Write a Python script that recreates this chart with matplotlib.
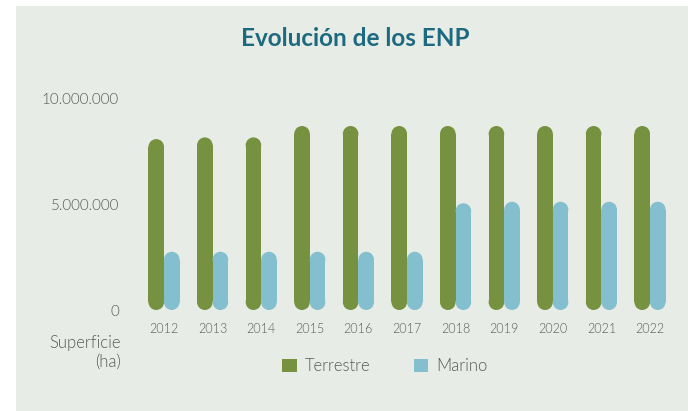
import matplotlib
matplotlib.use("Agg")
import matplotlib.pyplot as plt
from matplotlib.patches import Ellipse, Patch, Rectangle
import numpy as np

years = ["2012", "2013", "2014", "2015", "2016", "2017", "2018", "2019", "2020", "2021", "2022"]
terrestre = [8100000, 8180000, 8180000, 8720000, 8720000, 8720000, 8720000, 8720000, 8720000, 8720000, 8720000]
marino = [2760000, 2760000, 2760000, 2760000, 2760000, 2760000, 5060000, 5130000, 5130000, 5130000, 5130000]
yticks = [0, 5000000, 10000000]
ytick_labels = ["0", "5.000.000", "10.000.000"]

GREEN = "#76913f"
BLUE = "#84bfcf"
BG = "#e7ece6"
TXT = "#5a5a5a"
TITLE = "#1d6a80"
LW = 300

plt.rcParams['font.family'] = ['Lato', 'DejaVu Sans']

W, H = 688, 411
fig = plt.figure(figsize=(W / 100, H / 100), dpi=100)
fig.patch.set_facecolor("white")
fig.patches.append(Rectangle((16 / W, 0), 1 - 16 / W, 1 - 6 / H, transform=fig.transFigure,
                             facecolor=BG, edgecolor="none", zorder=-10))

left_px, right_px = 139.7, 674.3
bot_px, top_px = 310, 99
ax = fig.add_axes([left_px / W, (H - bot_px) / H, (right_px - left_px) / W, (bot_px - top_px) / H])
ax.set_facecolor("none")
ax.set_xlim(-0.5, len(years) - 0.5)
ax.set_ylim(0, 10000000)
for s in ax.spines.values():
    s.set_visible(False)

bw = 0.32
x = np.arange(len(years))
xs = len(years) / (right_px - left_px)       # data per px in x
ys = 10000000 / (bot_px - top_px)            # data per px in y
aspect = ys / xs
ry = (bw / 2) * aspect                        # cap radius in y data units

bars_g = ax.bar(x - bw / 2, terrestre, bw, color="none")
bars_b = ax.bar(x + bw / 2, marino, bw, color="none")
for bars, col in ((bars_g, GREEN), (bars_b, BLUE)):
    for b in bars:
        x0, w, h = b.get_x(), b.get_width(), b.get_height()
        b.set_visible(False)
        ax.add_patch(Rectangle((x0, ry), w, h - 2 * ry, facecolor=col, edgecolor="none",
                               zorder=3, antialiased=False))
        for yc in (ry, h - ry):
            ax.add_patch(Ellipse((x0 + w / 2, yc), w, 2 * ry, facecolor=col,
                                 edgecolor="none", zorder=3))

ax.set_xticks(x)
ax.set_xticklabels(years, fontsize=9, color=TXT, fontweight=LW)
ax.set_yticks(yticks)
ax.set_yticklabels(ytick_labels, fontsize=11, color=TXT, fontweight=LW)
ax.tick_params(axis="both", length=0)
ax.tick_params(axis="y", pad=15)
ax.tick_params(axis="x", pad=9)

fig.text(355 / W, 1 - 38 / H, "Evolución de los ENP", ha="center", va="center",
         fontsize=17.5, fontweight="bold", color=TITLE)
fig.text(121 / W, 1 - 343 / H, "Superficie", ha="right", va="center", fontsize=12,
         color=TXT, fontweight=LW)
fig.text(121 / W, 1 - 362 / H, "(ha)", ha="right", va="center", fontsize=12,
         color=TXT, fontweight=LW)

handles = [Patch(facecolor=GREEN, edgecolor="none", label="Terrestre"),
           Patch(facecolor=BLUE, edgecolor="none", label="Marino")]
leg = fig.legend(handles=handles, loc="center", bbox_to_anchor=(385 / W, 1 - 366 / H), ncol=2,
                 frameon=False, prop={"size": 12, "weight": LW}, handlelength=0.85,
                 handleheight=0.85, handletextpad=0.5, columnspacing=2.6, labelcolor=TXT)

fig.savefig("out.png", dpi=100, facecolor=fig.get_facecolor())
